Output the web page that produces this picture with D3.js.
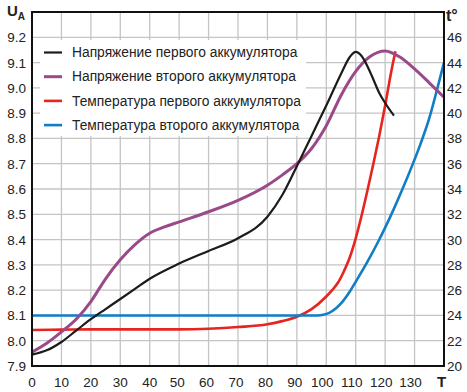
<!DOCTYPE html>
<html><head><meta charset="utf-8">
<script src="https://cdn.jsdelivr.net/npm/d3@7"></script>
<style>
html,body{margin:0;padding:0;background:#fff;}
svg text{font-family:"Liberation Sans",Arial,sans-serif;fill:#222;}
</style></head>
<body>
<svg id="chart" width="467" height="392"></svg>
<script>
// ---- data ----
const seriesNames = ["Напряжение первого аккумулятора","Напряжение второго аккумулятора","Температура первого аккумулятора","Температура второго аккумулятора"];
const u1T = [0,5,10,15,20,25,30,35,40,50,60,70,80,85,90,95,100,105,108,110,112,115,118,120,123];
const u1V = [7.945,7.962,7.995,8.04,8.085,8.125,8.165,8.205,8.245,8.305,8.355,8.405,8.49,8.575,8.69,8.81,8.93,9.055,9.122,9.142,9.126,9.06,8.98,8.94,8.89];
const u2T = [0,5,10,15,20,25,30,35,40,45,50,60,70,80,85,90,95,100,105,110,115,120,125,130,135,140];
const u2V = [7.955,7.99,8.035,8.085,8.155,8.245,8.32,8.38,8.425,8.45,8.47,8.51,8.555,8.615,8.655,8.70,8.76,8.85,8.97,9.065,9.125,9.146,9.122,9.075,9.02,8.963];
const t1T = [0,10,20,30,40,50,60,70,80,85,90,95,100,102,104,106,108,110,112,114,116,118,120,122,123.5];
const t1V = [22.85,22.88,22.9,22.9,22.9,22.9,22.95,23.08,23.3,23.55,23.9,24.5,25.5,26.0,26.6,27.5,28.6,30.1,31.9,33.9,36.0,38.2,40.6,43.2,44.9];
const t2T = [0,20,40,60,80,97,99,101,103,105,108,111,114,117,120,123,126,129,132,135,138,140];
const t2V = [24,24,24,24,24,24,24.05,24.2,24.5,24.95,25.9,27.05,28.25,29.55,30.95,32.45,34.05,35.75,37.55,39.6,42.2,44.0];
const xTicks = [0,10,20,30,40,50,60,70,80,90,100,110,120,130];
const uTicks = [7.9,8.0,8.1,8.2,8.3,8.4,8.5,8.6,8.7,8.8,8.9,9.0,9.1,9.2];
const tTicks = [20,22,24,26,28,30,32,34,36,38,40,42,44,46];
const colors = ["#1b1b1b","#9a4a88","#e62420","#0f7ec6"];
const widths = [2.2,3,2.6,2.6];

// ---- layout ----
const L=32, R=444, T=12, B=366;
const svg = d3.select("#chart");
const x = d3.scaleLinear().domain([0,140]).range([L,R]);
const yU = d3.scaleLinear().domain([7.9,9.3]).range([B,T]);
const yT = d3.scaleLinear().domain([20,48]).range([B,T]);

// grid
const g = svg.append("g");
g.selectAll(".vg").data(xTicks.concat([140])).enter().append("line")
  .attr("x1",d=>x(d)).attr("x2",d=>x(d)).attr("y1",T).attr("y2",B)
  .attr("stroke","#c4c4c4").attr("stroke-width",1.3);
g.selectAll(".hg").data(uTicks.concat([9.3])).enter().append("line")
  .attr("x1",L).attr("x2",R).attr("y1",d=>yU(d)).attr("y2",d=>yU(d))
  .attr("stroke","#c4c4c4").attr("stroke-width",1.3);

// legend box (hides grid)
svg.append("rect").attr("x",40).attr("y",40).attr("width",266).attr("height",96).attr("fill","#fff");

// curves
const line = (xs,ys,yscale)=> d3.line().curve(d3.curveMonotoneX)
  .x((d,i)=>x(xs[i])).y((d,i)=>yscale(ys[i]))(xs);
const order = [2,3,1,0];
const data = [[u1T,u1V,yU],[u2T,u2V,yU],[t1T,t1V,yT],[t2T,t2V,yT]];
order.forEach(k=>{
  svg.append("path").attr("d",line(...data[k])).attr("fill","none")
    .attr("stroke",colors[k]).attr("stroke-width",widths[k]).attr("stroke-linejoin","round");
});

// frame
svg.append("rect").attr("x",L).attr("y",T).attr("width",R-L).attr("height",B-T)
  .attr("fill","none").attr("stroke","#111").attr("stroke-width",2);

// axes labels
const fs = 13.5;
svg.selectAll(".ul").data(uTicks).enter().append("text")
  .attr("x",26).attr("y",d=>yU(d)+5).attr("text-anchor","end").attr("font-size",fs)
  .text(d=>d.toFixed(1));
svg.selectAll(".tl").data(tTicks).enter().append("text")
  .attr("x",447).attr("y",d=>yT(d)+5).attr("text-anchor","start").attr("font-size",fs)
  .text(d=>d);
svg.selectAll(".xl").data(xTicks).enter().append("text")
  .attr("x",d=>x(d)-(d>=100?4:(d>=50?2:0))).attr("y",387).attr("text-anchor","middle").attr("font-size",fs)
  .text(d=>d);
svg.append("text").attr("x",441.5).attr("y",387).attr("text-anchor","middle")
  .attr("font-size",15).attr("font-weight","bold").text("T");
const ua = svg.append("text").attr("x",7).attr("y",16).attr("font-size",15).attr("font-weight","bold");
ua.append("tspan").text("U");
ua.append("tspan").attr("font-size",10).attr("dy",4).text("A");
svg.append("text").attr("x",446).attr("y",21).attr("font-size",16).attr("font-weight","bold").text("t°");

// legend
seriesNames.forEach((name,i)=>{
  const yy = 52.5 + i*24.2;
  svg.append("line").attr("x1",44).attr("x2",62).attr("y1",yy).attr("y2",yy)
    .attr("stroke",colors[i]).attr("stroke-width",widths[i]);
  svg.append("text").attr("x",72).attr("y",yy+4.7).attr("font-size",13.8).text(name);
});
</script>
</body></html>
